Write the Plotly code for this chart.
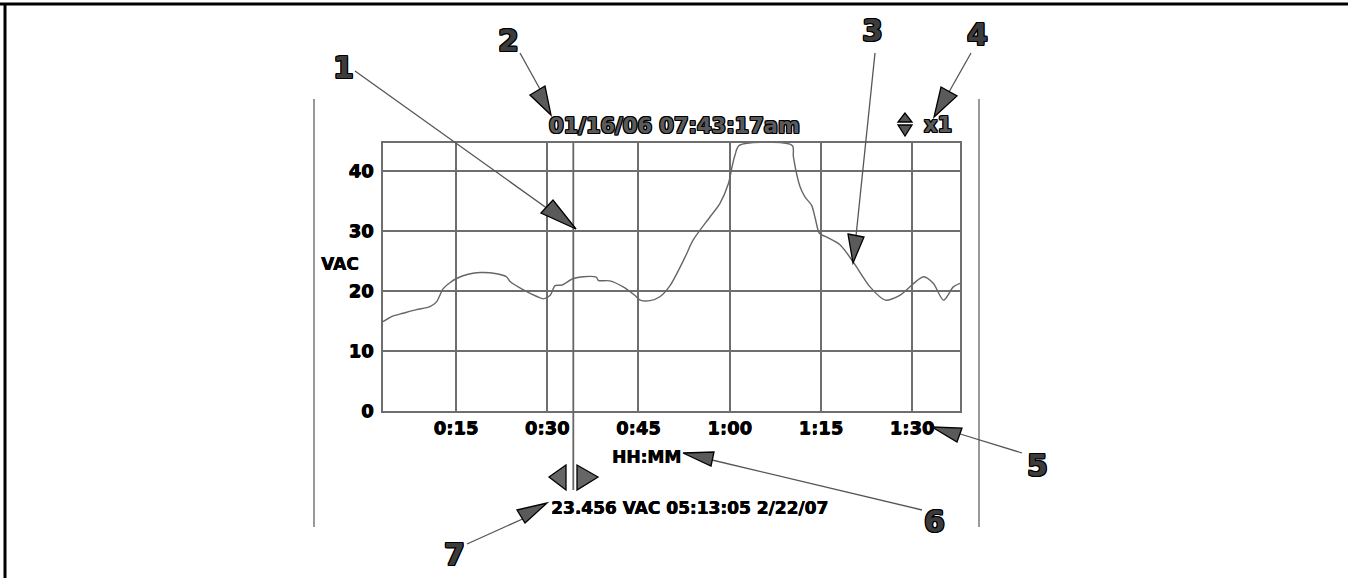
import plotly.graph_objects as go

# ---- data ----
minutes = [3, 4.5, 6.3, 8.5, 10.7, 11.8, 12.9, 14, 15.1, 17, 19, 21.7, 23.3, 23.9, 26.1, 28.3, 29.4,
           30.5, 31.3, 32.4, 34.3, 35.9, 38.1, 38.4, 40.3, 42.5, 44.4, 45.3, 46.9, 48.6, 50.2, 52.7,
           54, 56.8, 58.4, 59.8, 60.4, 60.9, 61.6, 70.3, 70.5, 71.6, 72.4, 73.5, 74.1, 74.8, 76, 78.2,
           80.3, 83.1, 85.6, 88, 91.9, 93.5, 95.2, 96.8, 97.9]
vac = [14.9, 15.8, 16.3, 16.9, 17.4, 18.2, 20.4, 21.4, 22.1, 22.8, 23.1, 22.9, 22.4, 21.6, 20.2, 19.1, 18.7,
       19.3, 20.9, 21.0, 22.1, 22.4, 22.3, 21.8, 21.7, 20.7, 19.3, 18.5, 18.4, 19.1, 20.9, 25.7,
       28.5, 32.4, 34.6, 37.9, 40.7, 42.7, 44.3, 44.3, 42.4, 37.4, 35.7, 34.3, 32.1, 29.6, 29.0, 27.7,
       24.9, 20.7, 18.5, 19.3, 22.4, 21.3, 18.5, 20.7, 21.3]
x_tickvals = [15, 30, 45, 60, 75, 90]
x_ticktext = ["0:15", "0:30", "0:45", "1:00", "1:15", "1:30"]
y_tickvals = [0, 10, 20, 30, 40]
cursor_minute = 34.3

title_text = "01/16/06 07:43:17am"
zoom_text = "x1"
readout_text = "23.456 VAC 05:13:05 2/22/07"
x_title = "HH:MM"
y_title = "VAC"

# ---- geometry helpers (pixel -> paper) ----
L, R, T, B = 383, 960, 143, 411
W, H = R - L, B - T


def P(px, py):
    return (px - L) / W, (B - py) / H


FONT = "DejaVu Sans"
GRID = "#6e6e6e"
OUTLINE = ("-1px -1px 0 #000, 1px -1px 0 #000, -1px 1px 0 #000, 1px 1px 0 #000, "
           "0 1px 0 #000, 0 -1px 0 #000, 1px 0 0 #000, -1px 0 0 #000")
HEAVY = "0.6px 0 0 #000, 0 0.4px 0 #000"

fig = go.Figure()
fig.add_trace(go.Scatter(x=minutes, y=vac, mode="lines",
                         line=dict(color="#666666", width=1.4, shape="spline", smoothing=0.8),
                         hoverinfo="skip"))

shapes = []
annotations = []


def line(p1, p2, color="#555555", width=1.3):
    x0, y0 = P(*p1)
    x1, y1 = P(*p2)
    shapes.append(dict(type="line", xref="paper", yref="paper", x0=x0, y0=y0, x1=x1, y1=y1,
                       line=dict(color=color, width=width)))


def tri(pts, fill="#5a5a5a"):
    c = [P(*p) for p in pts]
    path = "M {} {} L {} {} L {} {} Z".format(c[0][0], c[0][1], c[1][0], c[1][1], c[2][0], c[2][1])
    shapes.append(dict(type="path", xref="paper", yref="paper", path=path,
                       fillcolor=fill, line=dict(color="#000000", width=1.3)))


def text(s, px, py, size, color="#000000", outline=False, xanchor="center"):
    x, y = P(px, py)
    f = dict(family=FONT, size=size, color=color, weight="bold",
             shadow=OUTLINE if outline else HEAVY)
    annotations.append(dict(text=s, x=x, y=y, xref="paper", yref="paper", showarrow=False,
                            xanchor=xanchor, yanchor="middle", font=f))


# frame
shapes.append(dict(type="line", xref="paper", yref="paper", x0=P(0, 4)[0], x1=P(1348, 4)[0],
                   y0=P(0, 4)[1], y1=P(0, 4)[1], line=dict(color="#000", width=3)))
shapes.append(dict(type="line", xref="paper", yref="paper", x0=P(5, 0)[0], x1=P(5, 0)[0],
                   y0=P(0, 3)[1], y1=P(0, 578)[1], line=dict(color="#000", width=3)))
# side bars
line((314, 99), (314, 527), color="#777777", width=1.5)
line((979, 99), (979, 527), color="#777777", width=1.5)

# cursor line
shapes.append(dict(type="line", xref="x", yref="paper", x0=cursor_minute, x1=cursor_minute,
                   y0=1, y1=P(0, 490)[1], line=dict(color="#666666", width=1.8)))

# cursor arrows
tri([(549, 477), (566, 465), (566, 490)], fill="#666666")
tri([(598, 477), (577, 465), (577, 490)], fill="#666666")
# up/down icon
tri([(905, 113), (898, 122), (912, 122)], fill="#555555")
tri([(905, 136), (898, 125), (912, 125)], fill="#555555")

# callout leaders & pointers
line((355, 71), (576, 229))
tri([(541, 213), (553, 200), (576, 229)])
line((520, 53), (546, 100))
tri([(530, 95), (545, 86), (551, 115)])
line((875, 53), (856, 236))
tri([(848, 234), (864, 237), (853, 263)])
line((971, 53), (949, 92))
tri([(941, 87), (957, 96), (934, 117)])
line((1022, 453), (957, 433))
tri([(932, 427), (962, 428), (957, 442)])
line((922, 510), (712, 460))
tri([(683, 453), (714, 452), (711, 466)])
line((467, 544), (527, 517))
tri([(517, 510), (547, 503), (525, 523)])

# callout numbers
for n, (cx, cy) in zip("1234567", [(343, 67), (508, 41), (872, 31), (977, 34),
                                     (1037, 465), (934, 521), (454, 554)]):
    text(n, cx, cy, 30, color="#3c3c3c", outline=True)

text(title_text, 674, 126, 21, color="#5a5a5a", outline=True)
text(zoom_text, 938, 125, 21, color="#5a5a5a", outline=True)
text(y_title, 340, 264, 17)
text(x_title, 646, 457, 17)
text(readout_text, 689, 508, 17)

tickfont = dict(family=FONT, size=18, color="#000", weight="bold", shadow=HEAVY)
fig.update_layout(
    width=1348, height=578, autosize=False,
    margin=dict(l=L, r=1348 - R, t=T, b=578 - B),
    paper_bgcolor="white", plot_bgcolor="white",
    showlegend=False,
    shapes=shapes, annotations=annotations,
    xaxis=dict(range=[3, 97.9], tickvals=x_tickvals, ticktext=x_ticktext,
               showgrid=True, gridcolor=GRID, gridwidth=1.5, zeroline=False,
               showline=True, linecolor=GRID, linewidth=1.5, mirror=True,
               ticks="", ticklabelstandoff=0, tickfont=tickfont),
    yaxis=dict(range=[0, 44.7], tickvals=y_tickvals,
               showgrid=True, gridcolor=GRID, gridwidth=1.5, zeroline=False,
               showline=True, linecolor=GRID, linewidth=1.5, mirror=True,
               ticks="", ticklabelstandoff=4, tickfont=tickfont),
)

fig.write_html("out.html", config={"displayModeBar": False},
               post_script="document.body.style.margin='0';document.body.style.overflow='hidden';")
